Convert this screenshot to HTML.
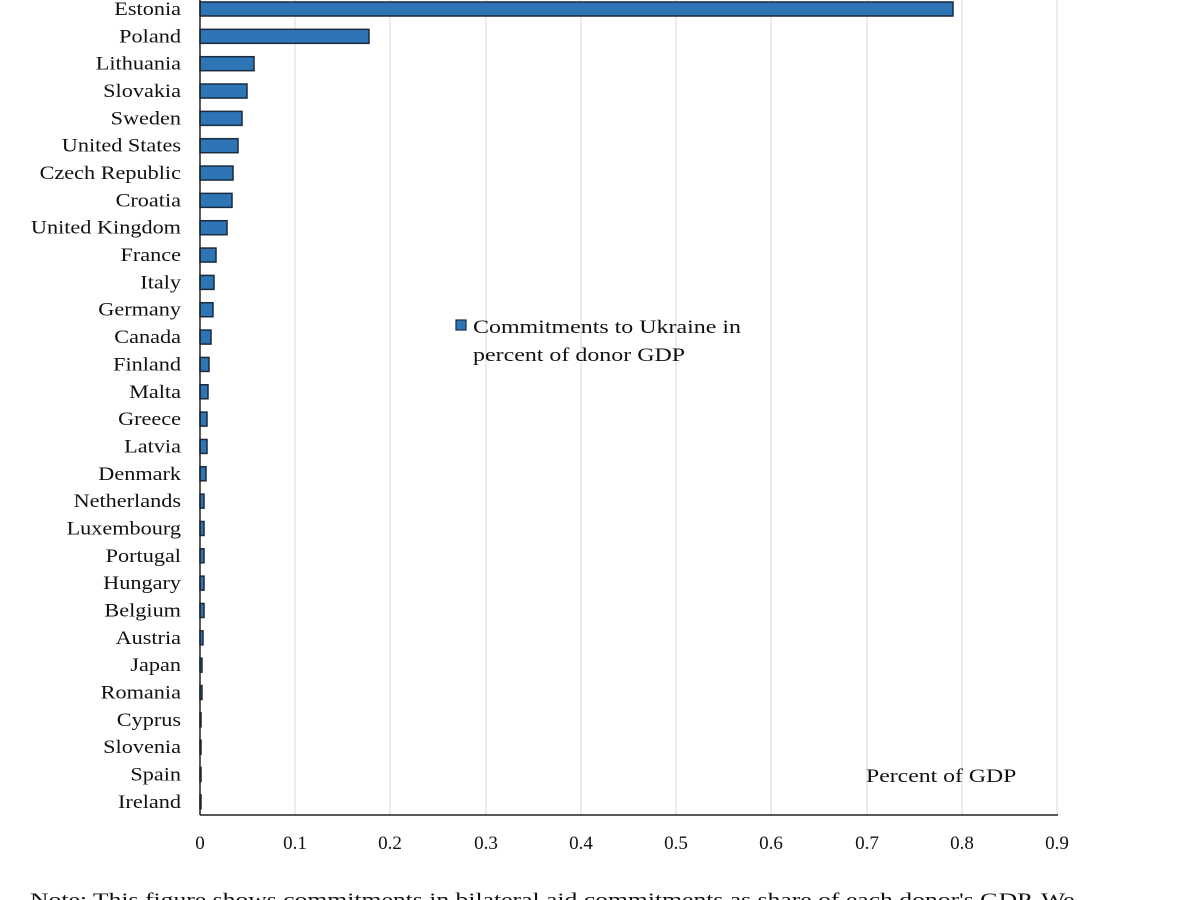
<!DOCTYPE html>
<html><head><meta charset="utf-8"><style>
html,body{margin:0;padding:0;background:#fff;width:1200px;height:900px;overflow:hidden}
svg text{font-family:"Liberation Serif",serif;font-size:19px;fill:#111}
</style></head><body>
<svg width="1200" height="900" xmlns="http://www.w3.org/2000/svg">
<g stroke="#d9d9d9" stroke-width="1">
<line x1="295" y1="0" x2="295" y2="815"/><line x1="390" y1="0" x2="390" y2="815"/>
<line x1="486" y1="0" x2="486" y2="815"/><line x1="581" y1="0" x2="581" y2="815"/>
<line x1="676" y1="0" x2="676" y2="815"/><line x1="771" y1="0" x2="771" y2="815"/>
<line x1="867" y1="0" x2="867" y2="815"/><line x1="962" y1="0" x2="962" y2="815"/>
<line x1="1057" y1="0" x2="1057" y2="815"/>
</g>
<g id="bars" fill="#2e75b6" stroke="#1a2a40" stroke-width="1.5"></g>
<line x1="200" y1="0" x2="200" y2="815" stroke="#222" stroke-width="1.5"/>
<line x1="200" y1="815" x2="1058" y2="815" stroke="#222" stroke-width="1.5"/>
<g id="labels" text-anchor="end"></g>
<g text-anchor="middle">
<text x="200" y="849">0</text><text x="295" y="849">0.1</text><text x="390" y="849">0.2</text>
<text x="486" y="849">0.3</text><text x="581" y="849">0.4</text><text x="676" y="849">0.5</text>
<text x="771" y="849">0.6</text><text x="867" y="849">0.7</text><text x="962" y="849">0.8</text>
<text x="1057" y="849">0.9</text>
</g>
<rect x="456" y="320" width="10" height="10" fill="#2e75b6" stroke="#1a2a40" stroke-width="1.2"/>
<text class="w" data-s="1.26" x="473" y="333">Commitments to Ukraine in</text>
<text class="w" data-s="1.26" x="473" y="361">percent of donor GDP</text>
<text class="w" data-s="1.25" x="866" y="782">Percent of GDP</text>
<text class="w" data-s="1.35" x="30" y="906">Note: This figure shows commitments in bilateral aid commitments as share of each donor's GDP. We</text>
</svg>
<script>
const d=[["Estonia",953],["Poland",369],["Lithuania",254],["Slovakia",247],["Sweden",242],["United States",238],["Czech Republic",233],["Croatia",232],["United Kingdom",227],["France",216],["Italy",214],["Germany",213],["Canada",211],["Finland",209],["Malta",208],["Greece",207],["Latvia",207],["Denmark",206],["Netherlands",204],["Luxembourg",204],["Portugal",204],["Hungary",204],["Belgium",204],["Austria",203],["Japan",202],["Romania",202],["Cyprus",201],["Slovenia",201],["Spain",201],["Ireland",201]];
const ns="http://www.w3.org/2000/svg",b=document.getElementById("bars"),l=document.getElementById("labels");
d.forEach((r,i)=>{const y=9+i*27.34;
const re=document.createElementNS(ns,"rect");re.setAttribute("x",200);re.setAttribute("y",y-7);re.setAttribute("width",r[1]-200);re.setAttribute("height",14);b.appendChild(re);
const t=document.createElementNS(ns,"text");t.setAttribute("x",181);t.setAttribute("y",y+6);t.textContent=r[0];t.setAttribute("class","w");t.setAttribute("data-s","1.17");l.appendChild(t);});
document.querySelectorAll("text.w").forEach(t=>{const w=t.getComputedTextLength();t.setAttribute("textLength",(w*parseFloat(t.getAttribute("data-s"))).toFixed(1));t.setAttribute("lengthAdjust","spacingAndGlyphs");});
</script>
</body></html>
